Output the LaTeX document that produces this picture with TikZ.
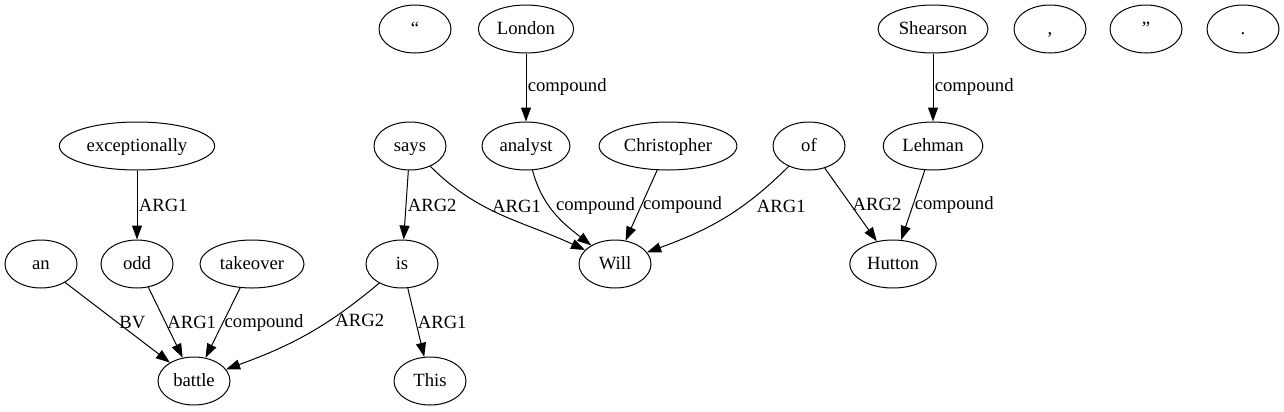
\documentclass[tikz,border=0pt]{standalone}
\usepackage{fontspec}
\setmainfont{Liberation Serif}
\usetikzlibrary{shapes.geometric,arrows.meta}
\begin{document}
\begin{tikzpicture}[
  x=0.75pt, y=-0.75pt,
  every node/.style={font=\fontsize{14}{16}\selectfont},
  word/.style={ellipse, draw, line width=0.75pt, minimum width=54pt,
    minimum height=36pt, inner xsep=3.5pt, inner ysep=1pt,
    text height=10.5pt, text depth=3pt},
  link/.style={draw, line width=0.75pt, -{Triangle[length=10.5pt,width=7.5pt]}},
  rel/.style={right, inner sep=1pt}
]
\useasboundingbox (0,0) rectangle (1284,411);
% top row
\node[word] (lquote)   at (415,29)  {“};
\node[word] (london)   at (526,29)  {London};
\node[word] (shearson) at (933,29)  {Shearson};
\node[word] (comma)    at (1050,29) {,};
\node[word] (rquote)   at (1146,29) {”};
\node[word] (period)   at (1243,29) {.};
% second row
\node[word] (exceptionally) at (137,146) {exceptionally};
\node[word] (says)        at (410,146) {says};
\node[word] (analyst)     at (526,146) {analyst};
\node[word] (christopher) at (668,146) {Christopher};
\node[word] (of)          at (809,146) {of};
\node[word] (lehman)      at (933,146) {Lehman};
% third row
\node[word] (an)       at (41,264)  {an};
\node[word] (odd)      at (137,264) {odd};
\node[word] (takeover) at (252,264) {takeover};
\node[word] (is)       at (402,264) {is};
\node[word] (will)     at (615,264) {Will};
\node[word] (hutton)   at (893,264) {Hutton};
% bottom row
\node[word] (battle) at (194,381) {battle};
\node[word] (this)   at (430,381) {This};

\draw[link] (london) -- node[rel] {compound} (analyst);
\draw[link] (shearson) -- node[rel] {compound} (lehman);
\draw[link] (exceptionally) -- node[rel] {ARG1} (odd);
\draw[link] (says) -- node[rel] {ARG2} (is);
\draw[link] (says) to[out=-45,in=155] node[pos=0.38,rel,xshift=4pt] {ARG1} (will);
\draw[link] (analyst) to[out=-75,in=142] node[pos=0.4,rel,xshift=4pt] {compound} (will);
\draw[link] (christopher) -- node[rel] {compound} (will);
\draw[link] (of) to[out=-135,in=20] node[pos=0.36,rel,xshift=10pt] {ARG1} (will);
\draw[link] (of) -- node[rel] {ARG2} (hutton);
\draw[link] (lehman) -- node[rel] {compound} (hutton);
\draw[link] (an) -- node[rel] {BV} (battle);
\draw[link] (odd) -- node[rel] {ARG1} (battle);
\draw[link] (takeover) -- node[rel] {compound} (battle);
\draw[link] (is) to[out=-140,in=20] node[pos=0.34,rel,xshift=3pt] {ARG2} (battle);
\draw[link] (is) -- node[rel] {ARG1} (this);
\end{tikzpicture}
\end{document}
